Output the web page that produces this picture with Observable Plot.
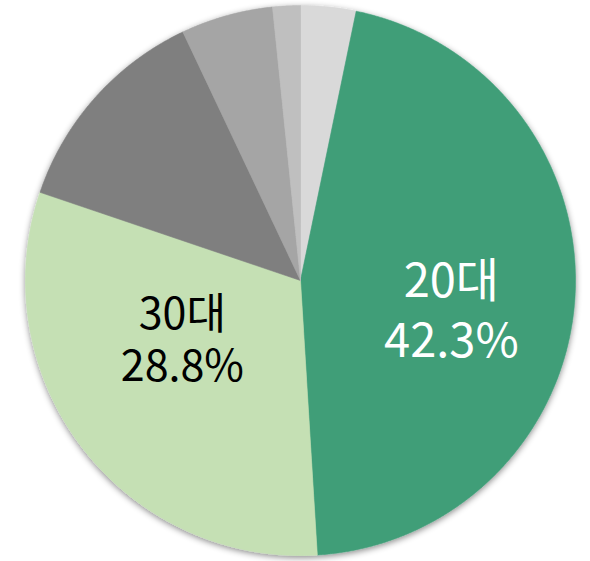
<!DOCTYPE html>
<html><head><meta charset="utf-8">
<script src="https://cdn.jsdelivr.net/npm/d3@7"></script>
<script src="https://cdn.jsdelivr.net/npm/@observablehq/plot@0.6"></script>
<style>body{margin:0;background:#fff}</style>
</head><body><div id="chart"></div>
<script>
// Age groups, clockwise from 12 o'clock
const categories = ["10대", "20대", "30대", "40대", "50대", "60대 이상"];
const shares = [3.0, 42.3, 28.8, 11.8, 5.0, 1.5];
const colors = ["#d9d9d9", "#3f9e78", "#c5e0b4", "#7f7f7f", "#a5a5a5", "#bfbfbf"];
const labeledWhite = ["20대"];
const labeledBlack = ["30대"];

const arcs = d3.pie().sort(null).value(d => d)(shares);

const pts = [];
arcs.forEach((a, i) => {
  const n = Math.max(2, Math.ceil((a.endAngle - a.startAngle) / 0.004));
  pts.push({k: categories[i], x: 0, y: 0});
  for (let j = 0; j <= n; j++) {
    const t = a.startAngle + (a.endAngle - a.startAngle) * j / n;
    pts.push({k: categories[i], x: Math.sin(t), y: Math.cos(t)});
  }
  pts.push({k: categories[i], x: 0, y: 0});
});

function labelData(names) {
  return names.map(name => {
    const i = categories.indexOf(name);
    const a = arcs[i];
    const m = (a.startAngle + a.endAngle) / 2;
    return {x: 0.55 * Math.sin(m), y: 0.55 * Math.cos(m), name, pct: `${shares[i].toFixed(1)}%`};
  });
}

const font = "'Noto Sans CJK KR', 'Noto Sans', sans-serif";
const white = labelData(labeledWhite);
const black = labelData(labeledBlack);

const chart = Plot.plot({
  width: 590,
  height: 561,
  marginLeft: 25,
  marginRight: 15,
  marginTop: 5,
  marginBottom: 6,
  x: {domain: [-1, 1], axis: null},
  y: {domain: [-1, 1], axis: null},
  color: {domain: categories, range: colors},
  marks: [
    Plot.line(pts, {x: "x", y: "y", z: "k", fill: "k", stroke: "k", strokeWidth: 0.6, curve: "linear"}),
    Plot.text(white, {x: "x", y: "y", text: "name", fill: "white", fontSize: 47, dy: -9, fontFamily: font}),
    Plot.text(white, {x: "x", y: "y", text: "pct", fill: "white", fontSize: 47, dy: 51, fontFamily: font}),
    Plot.text(black, {x: "x", y: "y", text: "name", fill: "black", fontSize: 43, dy: -57, dx: 2, fontFamily: font}),
    Plot.text(black, {x: "x", y: "y", text: "pct", fill: "black", fontSize: 43, dy: -5, dx: 2, fontFamily: font})
  ]
});

// soft outer shadow around the pie
const ns = "http://www.w3.org/2000/svg";
const defs = document.createElementNS(ns, "defs");
defs.innerHTML = '<filter id="pieShadow" x="-10%" y="-10%" width="120%" height="120%"><feDropShadow dx="0" dy="2" stdDeviation="3" flood-color="#000" flood-opacity="0.45"/></filter>';
chart.insertBefore(defs, chart.firstChild);
const lineG = chart.querySelector('g[aria-label="line"]');
if (lineG) lineG.setAttribute("filter", "url(#pieShadow)");

document.getElementById("chart").appendChild(chart);
</script>
</body></html>
